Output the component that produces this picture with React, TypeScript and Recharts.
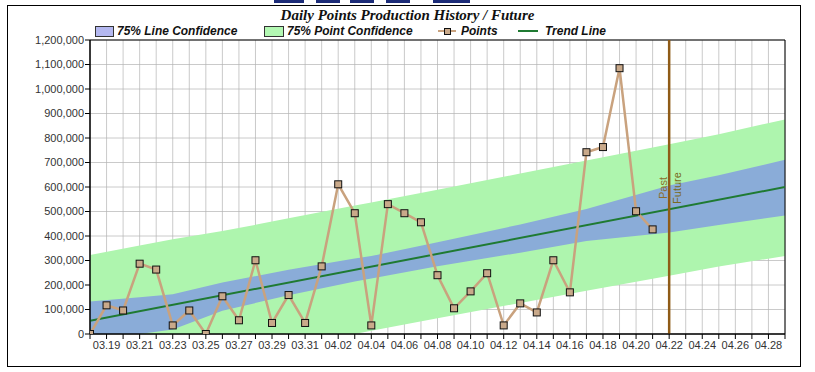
import React from 'react';
import { ComposedChart, XAxis, YAxis, CartesianGrid, Area, Line, ReferenceLine, ReferenceArea } from 'recharts';

// one label per day, 03.18 .. 04.29 (the axis runs from day 0 to day 42)
const dayLabels = [
  '03.18', '03.19', '03.20', '03.21', '03.22', '03.23', '03.24', '03.25', '03.26', '03.27',
  '03.28', '03.29', '03.30', '03.31', '04.01', '04.02', '04.03', '04.04', '04.05', '04.06',
  '04.07', '04.08', '04.09', '04.10', '04.11', '04.12', '04.13', '04.14', '04.15', '04.16',
  '04.17', '04.18', '04.19', '04.20', '04.21', '04.22', '04.23', '04.24', '04.25', '04.26',
  '04.27', '04.28', '04.29',
];

// daily points, 03.18 .. 04.21
const pointValues = [
  0, 117000, 96000, 287000, 263000, 35000, 96000, 0, 154000, 56000,
  301000, 45000, 159000, 45000, 276000, 611000, 493000, 35000, 530000, 493000,
  456000, 240000, 105000, 174000, 248000, 35000, 125000, 88000, 301000, 170000,
  742000, 763000, 1085000, 501000, 427000,
];

const trendStart = 54000;
const trendEnd = 600000;

// confidence bands, read at a few days
const bandDays = [0, 3, 5, 8, 12, 16, 17, 21, 26, 30, 35, 38, 42];
const lineLow = [0, 0, 18000, 95000, 158000, 214000, 227000, 277000, 332000, 380000, 414000, 445000, 484000];
const lineHigh = [133000, 150000, 162000, 210000, 262000, 308000, 318000, 375000, 447000, 510000, 606000, 648000, 711000];
const pointLow = [0, 0, 0, 0, 0, 0, 13000, 64000, 127000, 177000, 238000, 276000, 318000];
const pointHigh = [322000, 361000, 387000, 420000, 472000, 524000, 537000, 589000, 655000, 708000, 775000, 815000, 876000];

const futureStartDay = 35; // 04.22

const yTicks = [0, 100000, 200000, 300000, 400000, 500000, 600000, 700000, 800000, 900000, 1000000, 1100000, 1200000];

const lastDay = dayLabels.length - 1;
const dayTicks = dayLabels.map((_, i) => i);
const pointData = pointValues.map((v, i) => ({ day: i, value: v }));
const trendData = [
  { day: 0, value: trendStart },
  { day: lastDay, value: trendEnd },
];
const bandData = bandDays.map((d, i) => ({
  day: d,
  line: [lineLow[i], lineHigh[i]],
  point: [pointLow[i], pointHigh[i]],
}));

const sans = '"Liberation Sans", Arial, sans-serif';
const serif = '"Liberation Serif", "Times New Roman", serif';

const pointLine = '#c9a27e';
const pointFill = '#c9a98a';
const trendColor = '#1f7a32';
const lineBand = '#8aacd8';
const pointBand = '#aef5ae';
const futureColor = '#8f5b17';

const squareDot = (props: any) => {
  const { cx, cy, index } = props;
  return <rect key={index} x={cx - 3.5} y={cy - 3.5} width={7} height={7} fill={pointFill} stroke="#111" strokeWidth={1} />;
};

const pastFutureLabel = (props: any) => {
  const { viewBox } = props;
  const x = viewBox.x;
  const cy = viewBox.y + 148;
  return (
    <g fontFamily={sans} fontSize={11}>
      <text x={x - 6} y={cy} fill="#8b6d2c" textAnchor="middle" dominantBaseline="central" transform={`rotate(-90, ${x - 6}, ${cy})`}>
        Past
      </text>
      <text x={x + 8} y={cy} fill="#7a6a20" textAnchor="middle" dominantBaseline="central" transform={`rotate(-90, ${x + 8}, ${cy})`}>
        Future
      </text>
    </g>
  );
};

// legend font is a narrow bold italic; squeeze the regular one to fit
const legendText: React.CSSProperties = {
  position: 'absolute',
  top: 23,
  fontFamily: sans,
  fontWeight: 'bold',
  fontStyle: 'italic',
  fontSize: 13,
  lineHeight: '16px',
  color: '#111',
  whiteSpace: 'nowrap',
  transform: 'scaleX(0.92)',
  transformOrigin: 'left center',
};

function ChartLegend() {
  return (
    <>
      <div style={{ position: 'absolute', left: 95, top: 26, width: 17, height: 9, background: '#b4b8f0', border: '1px solid #333' }} />
      <div style={{ ...legendText, left: 117 }}>75% Line Confidence</div>
      <div style={{ position: 'absolute', left: 264, top: 26, width: 18, height: 9, background: '#b3f8b3', border: '1px solid #333' }} />
      <div style={{ ...legendText, left: 287 }}>75% Point Confidence</div>
      <div style={{ position: 'absolute', left: 438, top: 30, width: 18, height: 2, background: pointLine }} />
      <div style={{ position: 'absolute', left: 444, top: 28, width: 5, height: 5, background: pointFill, border: '1px solid #111' }} />
      <div style={{ ...legendText, left: 461 }}>Points</div>
      <div style={{ position: 'absolute', left: 518, top: 30, width: 20, height: 2, background: trendColor }} />
      <div style={{ ...legendText, left: 545 }}>Trend Line</div>
    </>
  );
}

const tabs = [
  [274, 304],
  [316, 340],
  [350, 374],
  [386, 410],
  [433, 470],
];

export default function App() {
  return (
    <div style={{ position: 'absolute', left: 0, top: 0, width: 815, height: 372, background: '#fff', overflow: 'hidden' }}>
      {tabs.map(([a, b]) => (
        <div key={a} style={{ position: 'absolute', left: a, top: 0, width: b - a, height: 3, background: '#1c2c78' }} />
      ))}
      <div style={{ position: 'absolute', left: 7, top: 5, width: 792, height: 360, border: '1px solid #000' }} />
      <div
        style={{
          position: 'absolute',
          left: 0,
          width: 815,
          top: 6,
          textAlign: 'center',
          fontFamily: serif,
          fontWeight: 'bold',
          fontStyle: 'italic',
          fontSize: 15,
          lineHeight: '18px',
          color: '#111',
        }}
      >
        Daily Points Production History / Future
      </div>
      <ChartLegend />
      <div style={{ position: 'absolute', left: 0, top: 0 }}>
        <ComposedChart width={815} height={372} margin={{ top: 40, right: 30, bottom: 18, left: 10 }}>
          <XAxis
            dataKey="day"
            type="number"
            domain={[0, lastDay]}
            ticks={dayTicks}
            interval={0}
            tickFormatter={(d: number) => (d % 2 === 1 && d < lastDay ? dayLabels[d] : '')}
            tick={{ fontSize: 11, fill: '#333', fontFamily: sans }}
            tickSize={5}
            height={20}
            axisLine={{ stroke: '#000' }}
            tickLine={{ stroke: '#000' }}
            allowDataOverflow
          />
          <YAxis
            type="number"
            domain={[0, 1200000]}
            ticks={yTicks}
            interval={0}
            tickFormatter={(v: number) => v.toLocaleString('en-US')}
            tick={{ fontSize: 11, fill: '#333', fontFamily: sans }}
            tickSize={5}
            tickMargin={1}
            width={80}
            axisLine={{ stroke: '#000' }}
            tickLine={{ stroke: '#000' }}
            allowDataOverflow
          />
          <Area data={bandData} dataKey="point" type="linear" stroke="none" fill={pointBand} fillOpacity={1} isAnimationActive={false} />
          <Area data={bandData} dataKey="line" type="linear" stroke="none" fill={lineBand} fillOpacity={1} isAnimationActive={false} />
          <CartesianGrid stroke="#b4b4b4" strokeOpacity={0.7} />
          <ReferenceArea x1={0} x2={lastDay} y1={0} y2={1200000} fill="none" stroke="#000" strokeWidth={1} />
          <Line data={trendData} dataKey="value" type="linear" stroke={trendColor} strokeWidth={2} dot={false} isAnimationActive={false} />
          <Line data={pointData} dataKey="value" type="linear" stroke={pointLine} strokeWidth={2.5} dot={squareDot} isAnimationActive={false} />
          <ReferenceLine x={futureStartDay} stroke={futureColor} strokeWidth={2.5} label={pastFutureLabel} />
        </ComposedChart>
      </div>
    </div>
  );
}
